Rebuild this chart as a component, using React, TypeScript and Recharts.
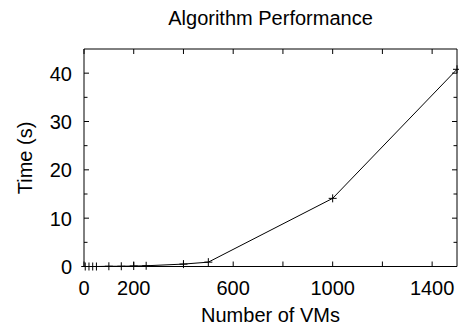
import React from "react";
import { Line, LineChart, XAxis, YAxis } from "recharts";

// number of VMs vs. run time (seconds)
const vms = [5, 20, 35, 50, 100, 150, 200, 250, 400, 500, 1000, 1500];
const times = [0, 0, 0, 0, 0.05, 0.05, 0.1, 0.15, 0.5, 0.9, 14.1, 40.8];

const xTicks = [0, 200, 400, 600, 800, 1000, 1200, 1400];
const xTickLabels = [0, 200, 600, 1000, 1400];
const yTicks = [0, 5, 10, 15, 20, 25, 30, 35, 40];
const yTickLabels = [0, 10, 20, 30, 40];

const data = vms.map((v, i) => ({ vms: v, time: times[i] }));

const FONT = '"Liberation Sans", Arial, Helvetica, sans-serif';

const BottomTick = ({ x, y, payload }: any) => (
  <g>
    <line x1={x} x2={x} y1={y} y2={y - 5} stroke="#000" />
    {xTickLabels.includes(payload.value) && (
      <text x={x} y={y + 28.5} textAnchor="middle" fontSize={20} fontFamily={FONT} fill="#000">
        {payload.value}
      </text>
    )}
  </g>
);

const TopTick = ({ x, y }: any) => <line x1={x} x2={x} y1={y} y2={y + 5} stroke="#000" />;

const LeftTick = ({ x, y, payload }: any) => {
  const major = yTickLabels.includes(payload.value);
  return (
    <g>
      <line x1={x} x2={x + (major ? 5 : 3.5)} y1={y} y2={y} stroke="#000" />
      {major && (
        <text x={x - 12} y={y + 7.5} textAnchor="end" fontSize={20} fontFamily={FONT} fill="#000">
          {payload.value}
        </text>
      )}
    </g>
  );
};

const RightTick = ({ x, y, payload }: any) => {
  const major = yTickLabels.includes(payload.value);
  return <line x1={x} x2={x - (major ? 5 : 3.5)} y1={y} y2={y} stroke="#000" />;
};

const Plus = ({ cx, cy }: any) => (
  <g>
    <line x1={cx - 4} x2={cx + 4} y1={cy} y2={cy} stroke="#000" />
    <line x1={cx} x2={cx} y1={cy - 4} y2={cy + 4} stroke="#000" />
  </g>
);

export default function App() {
  return (
    <div style={{ position: "absolute", left: 0, top: 0, width: 459, height: 331, background: "#fff" }}>
      <svg width={459} height={331} style={{ position: "absolute", left: 0, top: 0, pointerEvents: "none" }}>
        <text x={270.5} y={25} textAnchor="middle" fontSize={20} fontFamily={FONT} fill="#000">
          Algorithm Performance
        </text>
        <text x={270.5} y={322} textAnchor="middle" fontSize={20} fontFamily={FONT} fill="#000">
          Number of VMs
        </text>
        <text transform="translate(32,158) rotate(-90)" textAnchor="middle" fontSize={20} fontFamily={FONT} fill="#000">
          Time (s)
        </text>
      </svg>
      <div style={{ position: "absolute", left: 0, top: 0 }}>
        <LineChart width={459} height={331} data={data} margin={{ top: 48, right: 1, bottom: 0, left: 0 }}>
          <XAxis
            dataKey="vms"
            type="number"
            domain={[0, 1500]}
            ticks={xTicks}
            interval={0}
            tickSize={0}
            tickMargin={0}
            tickLine={false}
            tick={<BottomTick />}
            height={64.5}
            stroke="#000"
          />
          <XAxis
            xAxisId="top"
            orientation="top"
            dataKey="vms"
            type="number"
            domain={[0, 1500]}
            ticks={xTicks}
            interval={0}
            tickSize={0}
            tickMargin={0}
            tickLine={false}
            tick={<TopTick />}
            height={1}
            stroke="#000"
          />
          <YAxis
            type="number"
            domain={[0, 45]}
            ticks={yTicks}
            interval={0}
            tickSize={0}
            tickMargin={0}
            tickLine={false}
            tick={<LeftTick />}
            width={84}
            stroke="#000"
          />
          <YAxis
            yAxisId="right"
            orientation="right"
            type="number"
            domain={[0, 45]}
            ticks={yTicks}
            interval={0}
            tickSize={0}
            tickMargin={0}
            tickLine={false}
            tick={<RightTick />}
            width={1}
            stroke="#000"
          />
          {/* invisible series so the mirrored axes (border) get drawn */}
          <Line
            xAxisId="top"
            yAxisId="right"
            dataKey="time"
            stroke="none"
            dot={false}
            activeDot={false}
            legendType="none"
            isAnimationActive={false}
          />
          <Line
            dataKey="time"
            stroke="#000"
            strokeWidth={1}
            dot={<Plus />}
            activeDot={false}
            isAnimationActive={false}
          />
        </LineChart>
      </div>
    </div>
  );
}
